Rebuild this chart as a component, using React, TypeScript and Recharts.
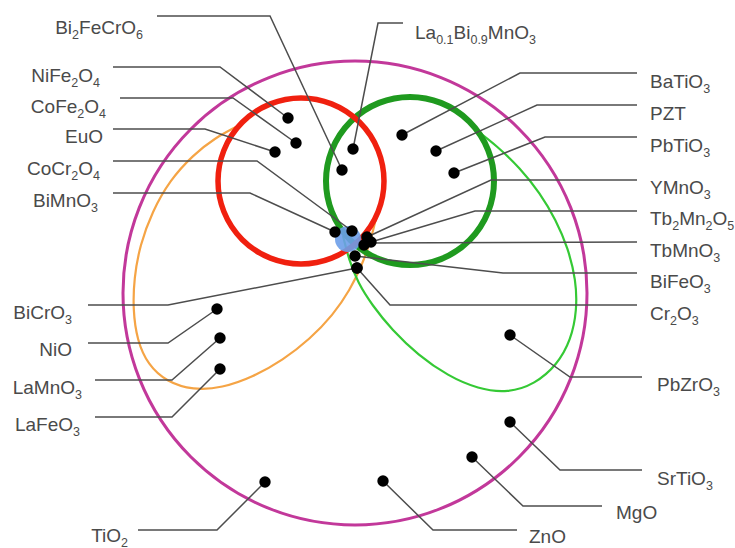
import React from "react";
import { ComposedChart, XAxis, YAxis, Line, Scatter } from "recharts";

const CHART_W = 735;
const CHART_H = 548;
const X_DOMAIN: [number, number] = [0, 735];
const Y_DOMAIN: [number, number] = [0, 548];
const PX = CHART_W / (X_DOMAIN[1] - X_DOMAIN[0]);

// Circles: centre and radius in data units
const magentaRing = [{ x: 355, y: 293, r: 232 }];
const redRing = [{ x: 301, y: 181, r: 83 }];
const greenRing = [{ x: 410, y: 181, r: 84 }];
const blueSpot = [{ x: 348, y: 239, r: 13 }];

// Thin loops (ends tucked under the thick rings)
const orangeLoop = [
  { x: 377, y: 214 }, { x: 371, y: 240 }, { x: 362, y: 265 }, { x: 350, y: 290 },
  { x: 333, y: 315 }, { x: 310, y: 339 }, { x: 283, y: 360 }, { x: 253, y: 377 },
  { x: 222, y: 388 }, { x: 193, y: 390 }, { x: 167, y: 382 }, { x: 148, y: 365 },
  { x: 137, y: 340 }, { x: 133, y: 310 }, { x: 134, y: 278 }, { x: 140, y: 245 },
  { x: 152, y: 212 }, { x: 170, y: 180 }, { x: 193, y: 155 }, { x: 215, y: 138 },
  { x: 236, y: 127 },
];
const limeLoop = [
  { x: 343, y: 236 }, { x: 349, y: 260 }, { x: 358, y: 283 }, { x: 372, y: 305 },
  { x: 392, y: 330 }, { x: 418, y: 355 }, { x: 448, y: 376 }, { x: 478, y: 389 },
  { x: 508, y: 393 }, { x: 535, y: 384 }, { x: 557, y: 365 }, { x: 571, y: 340 },
  { x: 577, y: 310 }, { x: 576, y: 280 }, { x: 568, y: 248 }, { x: 556, y: 220 },
  { x: 540, y: 193 }, { x: 520, y: 168 }, { x: 497, y: 146 }, { x: 476, y: 130 },
];

// Material dots
const materials = [
  { name: "NiFe2O4", x: 288, y: 118 },
  { name: "CoFe2O4", x: 296, y: 143 },
  { name: "EuO", x: 275, y: 152 },
  { name: "La0.1Bi0.9MnO3", x: 353, y: 149 },
  { name: "Bi2FeCrO6", x: 342, y: 170 },
  { name: "BaTiO3", x: 402, y: 135 },
  { name: "PZT", x: 436, y: 151 },
  { name: "PbTiO3", x: 454, y: 173 },
  { name: "BiMnO3", x: 335, y: 232 },
  { name: "CoCr2O4", x: 352, y: 231 },
  { name: "YMnO3", x: 367, y: 237 },
  { name: "Tb2Mn2O5", x: 371, y: 242 },
  { name: "TbMnO3", x: 364, y: 245 },
  { name: "BiFeO3", x: 355, y: 256 },
  { name: "Cr2O3", x: 357, y: 268 },
  { name: "BiCrO3", x: 357, y: 268 },
  { name: "NiO", x: 217, y: 309 },
  { name: "LaMnO3", x: 220, y: 338 },
  { name: "LaFeO3", x: 220, y: 369 },
  { name: "PbZrO3", x: 510, y: 335 },
  { name: "SrTiO3", x: 510, y: 422 },
  { name: "MgO", x: 472, y: 457 },
  { name: "ZnO", x: 383, y: 481 },
  { name: "TiO2", x: 265, y: 482 },
];

// Leader lines: label end -> elbow -> dot
const leaders = [
  { name: "Bi2FeCrO6", pts: [{ x: 157, y: 16 }, { x: 270, y: 16 }, { x: 342, y: 170 }] },
  { name: "La0.1Bi0.9MnO3", pts: [{ x: 403, y: 23 }, { x: 378, y: 23 }, { x: 353, y: 149 }] },
  { name: "NiFe2O4", pts: [{ x: 113, y: 67 }, { x: 220, y: 67 }, { x: 288, y: 118 }] },
  { name: "CoFe2O4", pts: [{ x: 120, y: 98 }, { x: 233, y: 98 }, { x: 296, y: 143 }] },
  { name: "EuO", pts: [{ x: 113, y: 129 }, { x: 205, y: 129 }, { x: 275, y: 152 }] },
  { name: "CoCr2O4", pts: [{ x: 113, y: 161 }, { x: 257, y: 161 }, { x: 352, y: 231 }] },
  { name: "BiMnO3", pts: [{ x: 113, y: 193 }, { x: 250, y: 193 }, { x: 335, y: 232 }] },
  { name: "BiCrO3", pts: [{ x: 88, y: 305 }, { x: 168, y: 305 }, { x: 357, y: 268 }] },
  { name: "NiO", pts: [{ x: 88, y: 343 }, { x: 168, y: 343 }, { x: 217, y: 309 }] },
  { name: "LaMnO3", pts: [{ x: 95, y: 380 }, { x: 172, y: 380 }, { x: 220, y: 338 }] },
  { name: "LaFeO3", pts: [{ x: 95, y: 417 }, { x: 172, y: 417 }, { x: 220, y: 369 }] },
  { name: "TiO2", pts: [{ x: 138, y: 530 }, { x: 217, y: 530 }, { x: 265, y: 482 }] },
  { name: "ZnO", pts: [{ x: 517, y: 530 }, { x: 433, y: 530 }, { x: 383, y: 481 }] },
  { name: "MgO", pts: [{ x: 602, y: 506 }, { x: 523, y: 506 }, { x: 472, y: 457 }] },
  { name: "SrTiO3", pts: [{ x: 642, y: 470 }, { x: 560, y: 470 }, { x: 510, y: 422 }] },
  { name: "PbZrO3", pts: [{ x: 642, y: 377 }, { x: 570, y: 377 }, { x: 510, y: 335 }] },
  { name: "Cr2O3", pts: [{ x: 637, y: 305 }, { x: 390, y: 305 }, { x: 357, y: 268 }] },
  { name: "BiFeO3", pts: [{ x: 637, y: 273 }, { x: 503, y: 273 }, { x: 355, y: 256 }] },
  { name: "TbMnO3", pts: [{ x: 637, y: 242 }, { x: 364, y: 243 }] },
  { name: "Tb2Mn2O5", pts: [{ x: 637, y: 211 }, { x: 475, y: 211 }, { x: 371, y: 242 }] },
  { name: "YMnO3", pts: [{ x: 637, y: 180 }, { x: 491, y: 180 }, { x: 367, y: 237 }] },
  { name: "PbTiO3", pts: [{ x: 637, y: 137 }, { x: 545, y: 137 }, { x: 454, y: 173 }] },
  { name: "PZT", pts: [{ x: 637, y: 105 }, { x: 537, y: 105 }, { x: 436, y: 151 }] },
  { name: "BaTiO3", pts: [{ x: 637, y: 73 }, { x: 520, y: 73 }, { x: 402, y: 135 }] },
];

// Label anchors (left labels end at x, right labels start at x; y = text middle)
const labels = [
  { name: "Bi2FeCrO6", x: 143, y: 27, side: "end" },
  { name: "NiFe2O4", x: 100, y: 75, side: "end" },
  { name: "CoFe2O4", x: 106, y: 106, side: "end" },
  { name: "EuO", x: 103, y: 136, side: "end" },
  { name: "CoCr2O4", x: 100, y: 168, side: "end" },
  { name: "BiMnO3", x: 98, y: 200, side: "end" },
  { name: "BiCrO3", x: 72, y: 312, side: "end" },
  { name: "NiO", x: 72, y: 349, side: "end" },
  { name: "LaMnO3", x: 82, y: 387, side: "end" },
  { name: "LaFeO3", x: 80, y: 424, side: "end" },
  { name: "TiO2", x: 128, y: 535, side: "end" },
  { name: "La0.1Bi0.9MnO3", x: 415, y: 32, side: "start" },
  { name: "BaTiO3", x: 650, y: 81, side: "start" },
  { name: "PZT", x: 650, y: 113, side: "start" },
  { name: "PbTiO3", x: 650, y: 145, side: "start" },
  { name: "YMnO3", x: 650, y: 187, side: "start" },
  { name: "Tb2Mn2O5", x: 650, y: 218, side: "start" },
  { name: "TbMnO3", x: 650, y: 250, side: "start" },
  { name: "BiFeO3", x: 650, y: 281, side: "start" },
  { name: "Cr2O3", x: 650, y: 313, side: "start" },
  { name: "PbZrO3", x: 657, y: 384, side: "start" },
  { name: "SrTiO3", x: 657, y: 478, side: "start" },
  { name: "MgO", x: 616, y: 512, side: "start" },
  { name: "ZnO", x: 529, y: 536, side: "start" },
];

const FONT = "'Liberation Sans', Arial, Helvetica, sans-serif";
const TEXT_COLOR = "#4a4a4a";
const LINE_COLOR = "#4d4d4d";

const ringShape = (stroke: string, width: number) => (p: any) => (
  <circle cx={p.cx} cy={p.cy} r={p.payload.r * PX} fill="none" stroke={stroke} strokeWidth={width} />
);

const spotShape = (p: any) => (
  <circle cx={p.cx} cy={p.cy} r={p.payload.r * PX} fill="#6d9ee9" fillOpacity={0.9} />
);

const dotShape = (p: any) => <circle cx={p.cx} cy={p.cy} r={5.7} fill="#000" />;

const labelShape = (p: any) => {
  const parts: string[] = String(p.payload.name).split(/(\d+(?:\.\d+)?)/);
  let shifted = false;
  return (
    <text
      x={p.cx}
      y={p.cy + 7}
      textAnchor={p.payload.side}
      fontFamily={FONT}
      fontSize={19}
      fill={TEXT_COLOR}
    >
      {parts.map((part, i) => {
        if (!part) return null;
        const isSub = i % 2 === 1;
        let dy = 0;
        if (isSub && !shifted) dy = 4.5;
        if (!isSub && shifted) dy = -4.5;
        shifted = isSub;
        return (
          <tspan key={i} dy={dy} fontSize={isSub ? 12.5 : 19}>
            {part}
          </tspan>
        );
      })}
    </text>
  );
};

export default function App() {
  return (
    <div style={{ position: "absolute", left: 0, top: 0, background: "#fff" }}>
      <ComposedChart width={CHART_W} height={CHART_H} margin={{ top: 0, right: 0, bottom: 0, left: 0 }}>
        <XAxis type="number" dataKey="x" domain={X_DOMAIN} hide allowDataOverflow />
        <YAxis type="number" dataKey="y" domain={Y_DOMAIN} reversed hide allowDataOverflow />
        <Scatter data={magentaRing} shape={ringShape("#c2389a", 3)} isAnimationActive={false} zIndex={100} />
        <Line data={orangeLoop} dataKey="y" type="basis" stroke="#f5a445" strokeWidth={2.2} dot={false} activeDot={false} isAnimationActive={false} zIndex={200} />
        <Line data={limeLoop} dataKey="y" type="basis" stroke="#35c935" strokeWidth={2.2} dot={false} activeDot={false} isAnimationActive={false} zIndex={210} />
        <Scatter data={greenRing} shape={ringShape("#1f9a1f", 6)} isAnimationActive={false} zIndex={300} />
        <Scatter data={redRing} shape={ringShape("#f0200f", 5.5)} isAnimationActive={false} zIndex={310} />
        <Scatter data={blueSpot} shape={spotShape} isAnimationActive={false} zIndex={400} />
        {leaders.map((l) => (
          <Line
            key={l.name}
            data={l.pts}
            dataKey="y"
            type="linear"
            stroke={LINE_COLOR}
            strokeWidth={1.5}
            dot={false}
            activeDot={false}
            isAnimationActive={false}
            zIndex={500}
          />
        ))}
        <Scatter data={materials} shape={dotShape} isAnimationActive={false} zIndex={600} />
        <Scatter data={labels} shape={labelShape} isAnimationActive={false} zIndex={700} />
      </ComposedChart>
    </div>
  );
}
